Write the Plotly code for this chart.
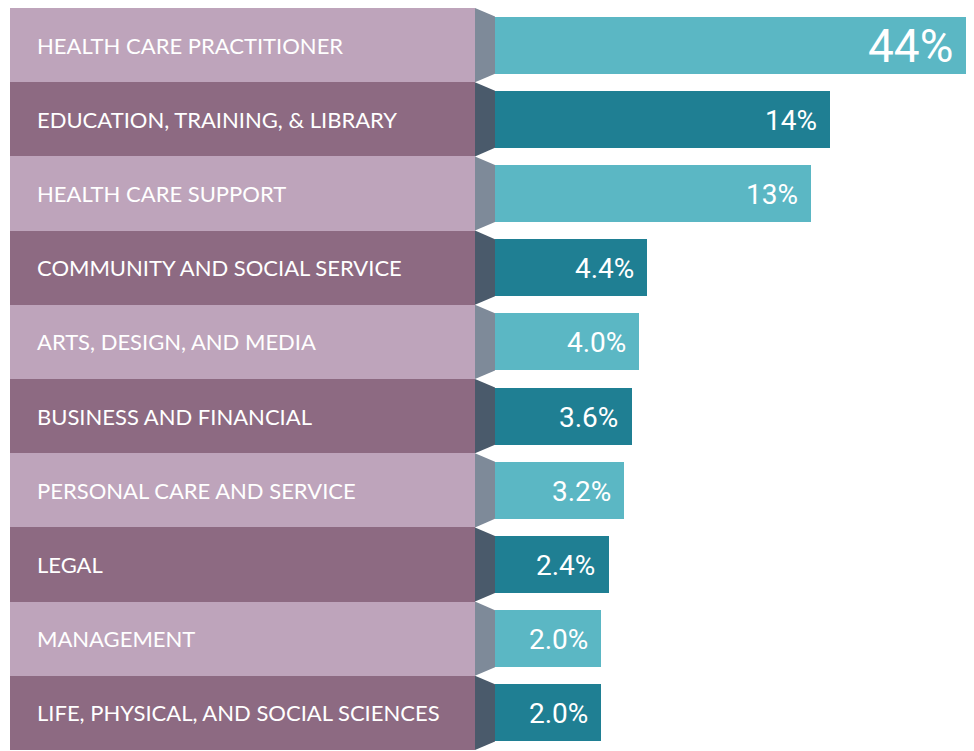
import plotly.graph_objects as go

categories = [
    "HEALTH CARE PRACTITIONER",
    "EDUCATION, TRAINING, & LIBRARY",
    "HEALTH CARE SUPPORT",
    "COMMUNITY AND SOCIAL SERVICE",
    "ARTS, DESIGN, AND MEDIA",
    "BUSINESS AND FINANCIAL",
    "PERSONAL CARE AND SERVICE",
    "LEGAL",
    "MANAGEMENT",
    "LIFE, PHYSICAL, AND SOCIAL SCIENCES",
]
values = [44, 14, 13, 4.4, 4.0, 3.6, 3.2, 2.4, 2.0, 2.0]
value_labels = ["44%", "14%", "13%", "4.4%", "4.0%", "3.6%", "3.2%", "2.4%", "2.0%", "2.0%"]

# page offset (browser body margin)
OFF = 8
W, H = 974 - OFF, 751 - OFF


def fx(px):
    return (px - OFF) / W


LABEL_L, LABEL_R = 10, 475
BAR_L = 495
ZERO_PX = 562.5     # where 0% sits (bars have a fixed stub before it)
BAR_END = 968       # scale is broken here (44% bar is cut)
XMAX = 21.24
BAR_W = 0.77

light_box, dark_box = "#BEA4BB", "#8D6A82"
light_con, dark_con = "#7E8A99", "#4A5A6B"
light_bar, dark_bar = "#5BB7C4", "#1F7F93"

n = len(categories)
ypos = list(range(n))
box_colors = [light_box if i % 2 == 0 else dark_box for i in range(n)]
bar_colors = [light_bar if i % 2 == 0 else dark_bar for i in range(n)]
con_colors = [light_con if i % 2 == 0 else dark_con for i in range(n)]

fig = go.Figure()

# bar stubs (before the 0% point), underneath the start of the value bars
fig.add_trace(go.Bar(
    x=[1] * n, y=ypos, orientation="h", width=BAR_W,
    marker=dict(color=bar_colors, line=dict(width=0)),
    xaxis="x", yaxis="y", hoverinfo="skip", showlegend=False,
))

# label boxes
fig.add_trace(go.Bar(
    x=[1] * n, y=ypos, orientation="h", width=1.0,
    marker=dict(color=box_colors, line=dict(width=0)),
    xaxis="x2", yaxis="y", hoverinfo="skip", showlegend=False,
))

# value bars
fig.add_trace(go.Bar(
    x=values, y=ypos, orientation="h", width=BAR_W,
    marker=dict(color=bar_colors, line=dict(width=0)),
    xaxis="x3", yaxis="y", hoverinfo="skip", showlegend=False,
))

shapes = []
for i in ypos:
    x0 = fx(LABEL_R)
    x1 = fx(BAR_L)
    path = (f"M {x0},{i-0.5} L {x1},{i-BAR_W/2} L {x1},{i+BAR_W/2} "
            f"L {x0},{i+0.5} Z")
    shapes.append(dict(type="path", path=path, xref="paper", yref="y",
                       fillcolor=con_colors[i], line=dict(width=0), layer="above"))

annotations = []
for i, cat in enumerate(categories):
    annotations.append(dict(
        x=fx(35), y=i, xref="paper", yref="y", text=cat, showarrow=False,
        xanchor="left", yanchor="middle",
        font=dict(family="Lato, 'Noto Sans', sans-serif", size=22, color="white"),
    ))
for i, (v, lab) in enumerate(zip(values, value_labels)):
    big = v > XMAX
    annotations.append(dict(
        x=min(v, XMAX), y=i, xref="x3", yref="y", text=lab, showarrow=False,
        xanchor="right", yanchor="middle", xshift=-13 if big else -11,
        yshift=-1,
        font=dict(family="Roboto, sans-serif", size=46 if big else 28, color="white"),
    ))

fig.update_layout(
    width=W, height=H,
    margin=dict(l=0, r=0, t=0, b=1),
    paper_bgcolor="white", plot_bgcolor="rgba(0,0,0,0)",
    barmode="overlay",
    bargap=0,
    xaxis=dict(domain=[fx(BAR_L), fx(ZERO_PX + 6)], range=[0, 1],
               visible=False, fixedrange=True),
    xaxis2=dict(domain=[fx(LABEL_L), fx(LABEL_R)], range=[0, 1],
                visible=False, anchor="y"),
    xaxis3=dict(domain=[fx(ZERO_PX), fx(BAR_END)], range=[0, XMAX],
                visible=False, anchor="y", fixedrange=True),
    yaxis=dict(range=[n - 0.5, -0.5], visible=False),
    shapes=shapes,
    annotations=annotations,
)

fig.write_html("out.html")
